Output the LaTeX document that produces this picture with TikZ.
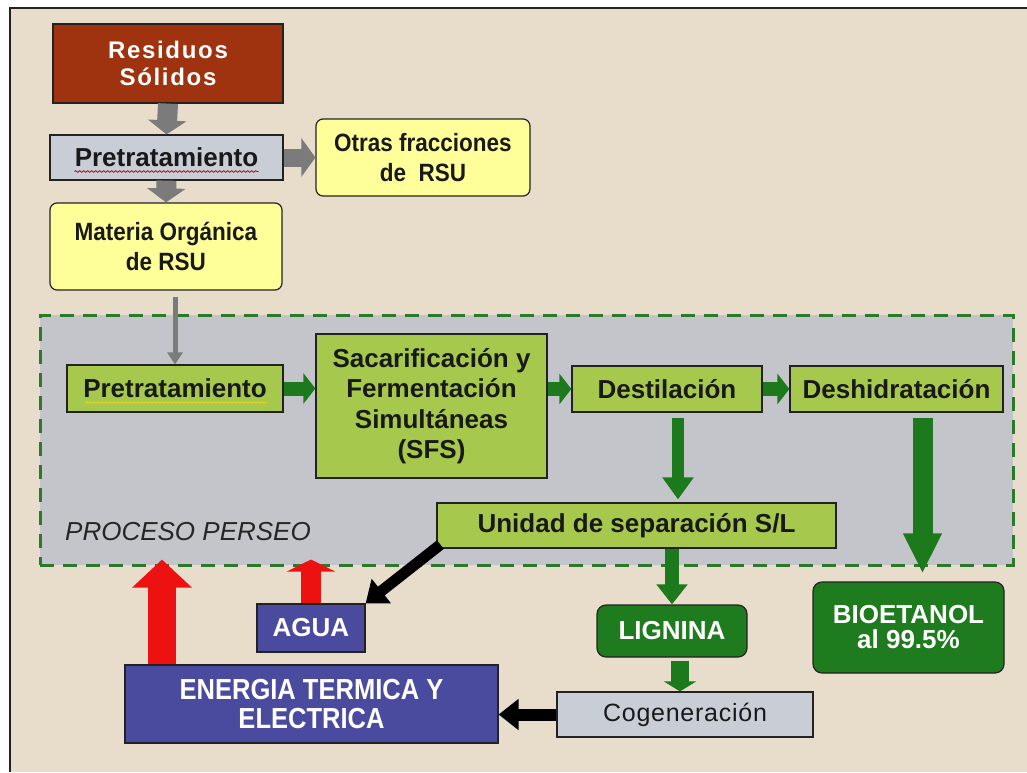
\documentclass[tikz,border=0pt]{standalone}
\usepackage{fontspec}
\setmainfont{Liberation Sans}
\newfontfamily\nfont[FakeStretch=0.9]{Liberation Sans}
\newfontfamily\efont[FakeStretch=0.88]{Liberation Sans}
\newfontfamily\spfont[LetterSpace=3]{Liberation Sans}
\newfontfamily\rfont[LetterSpace=7]{Liberation Sans}
\usetikzlibrary{arrows.meta,decorations.pathmorphing}
\definecolor{bg}{HTML}{E8DCCB}
\definecolor{inner}{HTML}{C4C5CA}
\definecolor{brick}{HTML}{A0330F}
\definecolor{gbox}{HTML}{C9CDD5}
\definecolor{ybox}{HTML}{FFFF99}
\definecolor{lgreen}{HTML}{A6C84C}
\definecolor{dgreen}{HTML}{1E7B1E}
\definecolor{agreen}{HTML}{1C7A1C}
\definecolor{dash}{HTML}{2B7A2B}
\definecolor{bluebox}{HTML}{4A4A9E}
\definecolor{redarr}{HTML}{EE1111}
\definecolor{garr}{HTML}{7B7B7B}
\definecolor{frame}{HTML}{222222}
\tikzset{
  base/.style={draw=frame, line width=1.2pt, align=center, inner sep=0pt},
  brickbox/.style={base, fill=brick, text=white, font=\rfont\bfseries\fontsize{24}{27}\selectfont},
  greybox/.style={base, fill=gbox, text=black!90, font=\bfseries\fontsize{26}{30}\selectfont},
  cogbox/.style={base, fill=gbox, text=black!90, font=\spfont\fontsize{25}{30}\selectfont},
  yellowbox/.style={base, fill=ybox, rounded corners=7pt, text=black!90, font=\nfont\bfseries\fontsize{25}{30}\selectfont},
  lgbox/.style={base, fill=lgreen, text=black!90, font=\bfseries\fontsize{26}{30.5}\selectfont},
  dgbox/.style={base, fill=dgreen, rounded corners=9pt, text=white, font=\bfseries\fontsize{26}{25}\selectfont},
  bluestyle/.style={base, fill=bluebox, text=white, font=\bfseries\fontsize{26}{29}\selectfont},
  dashbox/.style={draw=dash, fill=inner, line width=3pt, dash pattern=on 14pt off 9pt, inner sep=0pt},
  greyarrow/.style={draw=garr, line width=20pt, -{Triangle[width=38pt,length=14pt]}},
  thinarrow/.style={draw=garr, line width=5pt, -{Triangle[width=15pt,length=12pt]}},
  greenarrow/.style={draw=agreen, line width=14pt, -{Triangle[width=30pt,length=12pt]}},
  redarrow/.style={draw=redarr, line width=28pt, -{Triangle[width=58pt,length=28pt]}},
  blackarrow/.style={draw=black, line width=11pt, -{Triangle[width=30pt,length=20pt]}},
}
\begin{document}
\begin{tikzpicture}[x=1pt,y=-1pt]
\useasboundingbox (0,0) rectangle (1027,772);
\fill[white] (0,0) rectangle (1027,772);
\fill[bg] (10,8) rectangle (1027,772);
\draw[frame, line width=2pt] (10,772) -- (10,8) -- (1027,8);

% dashed process area
\node[dashbox, minimum width=973pt, minimum height=250pt] (perseo) at (526.5,440) {};
\node[anchor=west, inner sep=0pt, text=black!85, font=\itshape\fontsize{26}{30}\selectfont] (lbl) at (65,532) {PROCESO PERSEO};

% top nodes
\node[brickbox, minimum width=230pt, minimum height=79pt] (res) at (168,63.5) {Residuos\\Sólidos};
\node[greybox, minimum width=233pt, minimum height=45pt] (pre1) at (166.5,157.5) {Pretratamiento};
\node[yellowbox, minimum width=214pt, minimum height=77pt] (otras) at (423,157.5) {Otras fracciones\\de\ \ RSU};
\node[yellowbox, minimum width=232pt, minimum height=87pt] (mat) at (166,246.5) {Materia Orgánica\\de RSU};

% process nodes
\node[lgbox, minimum width=216pt, minimum height=47pt] (pre2) at (175,388.5) {Pretratamiento};
\node[lgbox, minimum width=231pt, minimum height=144pt] (sfs) at (431.5,406) {Sacarificación y\\Fermentación\\Simultáneas\\(SFS)};
\node[lgbox, minimum width=190pt, minimum height=46pt] (dest) at (667,389) {Destilación};
\node[lgbox, minimum width=213pt, minimum height=46pt] (desh) at (896.5,389) {Deshidratación};
\node[lgbox, minimum width=399pt, minimum height=45pt] (unid) at (636.5,525.5) {Unidad de separación S/L};

% bottom nodes
\node[dgbox, minimum width=191pt, minimum height=91pt] (bio) at (908.5,627.5) {BIOETANOL\\al 99.5\%};
\node[dgbox, minimum width=150pt, minimum height=52pt] (lig) at (672,631) {LIGNINA};
\node[cogbox, minimum width=256pt, minimum height=45pt] (cog) at (685,714.5) {Cogeneración};
\node[bluestyle, minimum width=373pt, minimum height=78pt, font=\efont\bfseries\fontsize{29}{29}\selectfont] (ener) at (311.5,704) {ENERGIA TERMICA Y\\ELECTRICA};
\node[bluestyle, minimum width=108pt, minimum height=48pt] (agua) at (311,628) {AGUA};

% spell-check underlines
\draw[red!80!black, line width=0.8pt, decorate, decoration={snake, amplitude=0.8pt, segment length=4pt}]
  ([xshift=-92pt,yshift=-14pt]pre1.center) -- ([xshift=92pt,yshift=-14pt]pre1.center);
\draw[yellow!70!orange, line width=0.8pt, decorate, decoration={snake, amplitude=0.8pt, segment length=4pt}]
  ([xshift=-90pt,yshift=-14pt]pre2.center) -- ([xshift=92pt,yshift=-14pt]pre2.center);

% grey arrows
\draw[greyarrow] (res.south) -- (pre1.north);
\draw[greyarrow, line width=18pt] (pre1.east) -- (otras.west);
\draw[greyarrow] (pre1.south) -- (mat.north);
\draw[thinarrow, shorten <=6pt] (mat.south -| pre2.north) -- (pre2.north);

% green arrows in process
\draw[greenarrow] (pre2.east) -- (pre2.east -| sfs.west);
\draw[greenarrow] (sfs.east |- dest.west) -- (dest.west);
\draw[greenarrow] (dest.east) -- (desh.west);
\coordinate (dx) at ([xshift=11pt]dest.south);
\draw[greenarrow, line width=12pt, -{Triangle[width=30pt,length=22pt]}, shorten <=5pt, shorten >=3pt] (dx) -- (dx |- unid.north);
\coordinate (bx) at ([xshift=26pt]desh.south);
\draw[greenarrow, line width=20pt, -{Triangle[width=36pt,length=40pt]}, shorten <=5pt, shorten >=8pt] (bx) -- (bx |- bio.north);
\draw[greenarrow, -{Triangle[width=30pt,length=20pt]}] (unid.south -| lig.north) -- (lig.north);
\coordinate (lx) at ([xshift=8pt]lig.south);
\draw[greenarrow, line width=18pt, -{Triangle[width=32pt,length=10pt]}, shorten <=3pt] (lx) -- (lx |- cog.north);

% black arrows
\draw[blackarrow, line width=12pt] (cog.west) -- (cog.west -| ener.east);
\draw[blackarrow] ([xshift=4pt,yshift=4pt]unid.south west) -- (agua.north east);

% red arrows
\coordinate (rx) at (162,0);
\draw[redarrow, shorten >=-7pt] (rx |- ener.north) -- (rx |- perseo.south);
\draw[redarrow, line width=20pt, -{Triangle[width=48pt,length=12pt]}, shorten >=-7pt] (agua.north) -- (agua.north |- perseo.south);
\end{tikzpicture}
\end{document}
